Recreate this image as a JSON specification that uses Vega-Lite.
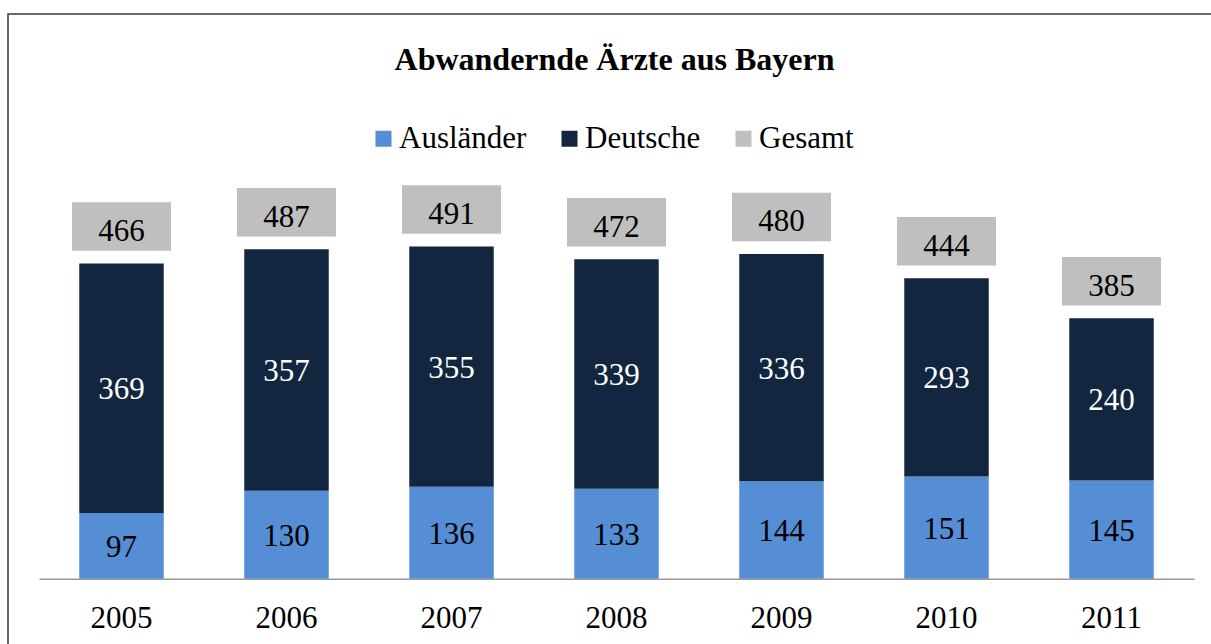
{
  "$schema": "https://vega.github.io/schema/vega-lite/v6.json",
  "width": 1205,
  "height": 632,
  "autosize": {"type": "none"},
  "padding": {"left": 8, "top": 14, "right": 0, "bottom": 0},
  "background": "white",
  "config": {
    "view": {"stroke": "#3a3a3a", "strokeWidth": 1.5},
    "font": "Liberation Serif"
  },
  "title": {
    "text": "Abwandernde Ärzte aus Bayern",
    "font": "Liberation Serif",
    "fontSize": 32,
    "fontWeight": "bold",
    "color": "black",
    "anchor": "middle",
    "baseline": "alphabetic",
    "offset": -88,
    "dx": 4
  },
  "data": {
    "values": [
      {"year": "2005", "Ausländer": 97, "Deutsche": 369, "Gesamt": 466},
      {"year": "2006", "Ausländer": 130, "Deutsche": 357, "Gesamt": 487},
      {"year": "2007", "Ausländer": 136, "Deutsche": 355, "Gesamt": 491},
      {"year": "2008", "Ausländer": 133, "Deutsche": 339, "Gesamt": 472},
      {"year": "2009", "Ausländer": 144, "Deutsche": 336, "Gesamt": 480},
      {"year": "2010", "Ausländer": 151, "Deutsche": 293, "Gesamt": 444},
      {"year": "2011", "Ausländer": 145, "Deutsche": 240, "Gesamt": 385}
    ]
  },
  "layer": [
    {
      "transform": [{"fold": ["Ausländer", "Deutsche"], "as": ["cat", "value"]}],
      "mark": {"type": "bar"},
      "encoding": {
        "x": {
          "field": "year",
          "type": "ordinal",
          "scale": {"range": [31, 1186], "paddingInner": 0.488, "paddingOuter": 0.244},
          "axis": {
            "title": null,
            "labelAngle": 0,
            "labelFont": "Liberation Serif",
            "labelFontSize": 31,
            "labelColor": "black",
            "labelPadding": 25,
            "ticks": false,
            "tickSize": 0,
            "domain": true,
            "domainColor": "#9a9a9a",
            "domainWidth": 1.5,
            "grid": false,
            "offset": -67.3
          }
        },
        "y": {
          "field": "value",
          "type": "quantitative",
          "stack": "zero",
          "scale": {"domain": [0, 834.6], "range": [564.7, 0], "nice": false, "zero": true},
          "axis": null
        },
        "order": {"field": "cat", "type": "nominal", "sort": "ascending"},
        "color": {
          "field": "cat",
          "type": "nominal",
          "scale": {
            "domain": ["Ausländer", "Deutsche", "Gesamt"],
            "range": ["#558ED5", "#12263F", "#BFBFBF"]
          },
          "legend": {
            "title": null,
            "orient": "none",
            "legendX": 360,
            "legendY": 109,
            "direction": "horizontal",
            "symbolType": "square",
            "symbolSize": 256,
            "symbolStrokeWidth": 0,
            "symbolOpacity": 1,
            "labelFont": "Liberation Serif",
            "labelFontSize": 31,
            "labelColor": "black",
            "labelOffset": 0,
            "columnPadding": 27,
            "padding": 0
          }
        }
      }
    },
    {
      "transform": [
        {"fold": ["Ausländer", "Deutsche"], "as": ["cat", "value"]},
        {"stack": "value", "groupby": ["year"], "sort": [{"field": "cat", "order": "ascending"}], "as": ["v0", "v1"]},
        {"calculate": "(datum.v0 + datum.v1) / 2", "as": "mid"}
      ],
      "mark": {"type": "text", "baseline": "middle", "fontSize": 31, "font": "Liberation Serif", "dy": 2},
      "encoding": {
        "x": {"field": "year", "type": "ordinal"},
        "y": {"field": "mid", "type": "quantitative"},
        "text": {"field": "value", "type": "quantitative"},
        "color": {"condition": {"test": "datum.cat === 'Deutsche'", "value": "white"}, "value": "black"}
      }
    },
    {
      "mark": {"type": "point", "shape": "M-1,-0.49H1V0.49H-1Z", "size": 9801, "filled": true, "opacity": 1, "strokeWidth": 0, "yOffset": -37},
      "encoding": {
        "x": {"field": "year", "type": "ordinal"},
        "y": {"field": "Gesamt", "type": "quantitative"},
        "color": {"datum": "Gesamt", "type": "nominal"}
      }
    },
    {
      "mark": {"type": "text", "baseline": "alphabetic", "fontSize": 31, "font": "Liberation Serif", "color": "black", "dy": -22.5},
      "encoding": {
        "x": {"field": "year", "type": "ordinal"},
        "y": {"field": "Gesamt", "type": "quantitative"},
        "text": {"field": "Gesamt", "type": "quantitative"}
      }
    }
  ]
}
